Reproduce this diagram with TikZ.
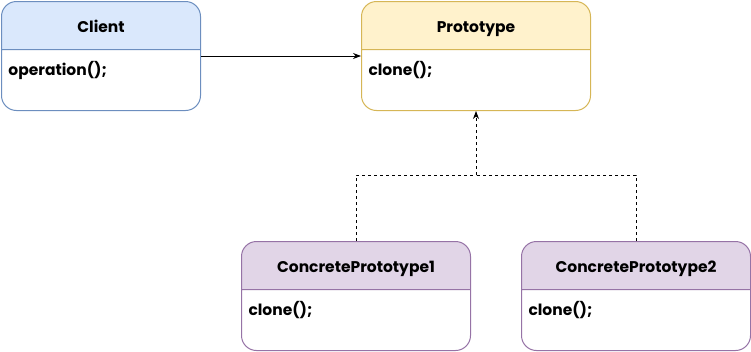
\documentclass[tikz,border=0pt]{standalone}
\usepackage{fontspec}
\setmainfont{Poppins}
\usepackage{tikz}
\usetikzlibrary{positioning,arrows.meta,shapes.multipart}
\usepackage{xcolor}
\definecolor{cliFill}{HTML}{DAE8FC}
\definecolor{cliLine}{HTML}{6C8EBF}
\definecolor{proFill}{HTML}{FFF2CC}
\definecolor{proLine}{HTML}{D6B656}
\definecolor{conFill}{HTML}{E1D5E7}
\definecolor{conLine}{HTML}{9673A6}
\newcommand\hd[1]{\rule[-17pt]{0pt}{47pt}#1}
\newcommand\bd[1]{\rule[-35pt]{0pt}{60pt}#1}

\begin{document}
\begin{tikzpicture}[x=1pt,y=-1pt,>={Stealth[length=8pt,width=6pt]},
  cls/.style={rectangle split,rectangle split parts=2,rectangle split part align={center,left},
    draw,line width=1pt,rounded corners=15pt,inner xsep=7pt,inner ysep=0pt,anchor=north west,
    minimum width=229pt,font=\fontsize{15.5}{17}\selectfont\bfseries},
  link/.style={draw,line width=0.8pt}]
\useasboundingbox (0,0) rectangle (751,351);
\node[cls,minimum width=199pt,draw=cliLine,rectangle split part fill={cliFill,white}] (client) at (1,1) {\hd{Client}\nodepart{two}\bd{operation();}};
\node[cls,draw=proLine,rectangle split part fill={proFill,white}] (proto) at (361,1) {\hd{Prototype}\nodepart{two}\bd{clone();}};
\node[cls,draw=conLine,rectangle split part fill={conFill,white}] (cp1) at (241,241) {\hd{ConcretePrototype1}\nodepart{two}\bd{clone();}};
\node[cls,draw=conLine,rectangle split part fill={conFill,white}] (cp2) at (521,241) {\hd{ConcretePrototype2}\nodepart{two}\bd{clone();}};
\coordinate (join) at (proto.south |- 0,175);
\draw[link,->] (client) -- (proto);
\draw[link,dashed] (cp1.north) |- (join);
\draw[link,dashed] (cp2.north) |- (join);
\draw[link,dashed,->] (join) -- (proto.south);
\end{tikzpicture}
\end{document}
